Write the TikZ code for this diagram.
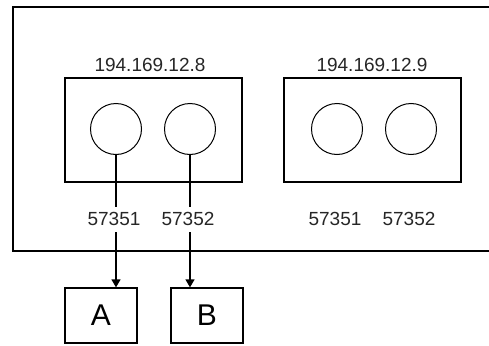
\documentclass[tikz,border=0pt]{standalone}
\usepackage{fontspec}
\setmainfont{Liberation Sans}
\usetikzlibrary{arrows.meta}
\begin{document}
\begin{tikzpicture}[x=1pt,y=-1pt,line width=1.3pt,
  hostbox/.style={draw,minimum width=177pt,minimum height=104pt,inner sep=0pt},
  port/.style={draw,circle,minimum size=51pt,inner sep=0pt,line width=1pt},
  lbl/.style={font=\fontsize{19}{19}\selectfont,inner sep=0pt,text=black!85},
  dest/.style={draw,minimum width=72pt,minimum height=55pt,inner sep=0pt,font=\fontsize{30}{30}\selectfont},
  arr/.style={-{Triangle[length=8pt,width=9pt]}}]
\useasboundingbox (0,0) rectangle (489,345);
\draw (530,7) -- (13,7) -- (13,251) -- (530,251);
\node[hostbox] (h1) at (153.5,130) {};
\node[hostbox] (h2) at (372.5,130) {};
\node[lbl] (ip1) at (150,65) {194.169.12.8};
\node[lbl] (ip2) at (372,65) {194.169.12.9};
\node[port] (p1) at (116,129) {};
\node[port] (p2) at (190,129) {};
\node[port] (p3) at (337,129) {};
\node[port] (p4) at (411,129) {};
\node[lbl] (l1) at (114,219) {57351};
\node[lbl] (l2) at (188,219) {57352};
\node[lbl] (l3) at (335,219) {57351};
\node[lbl] (l4) at (409,219) {57352};
\node[dest] (A) at (101,315.5) {A};
\node[dest] (B) at (207,315.5) {B};
\coordinate (e1) at (116,207);
\coordinate (e2) at (190,207);
\coordinate (s1) at (116,232);
\coordinate (s2) at (190,232);
\draw (p1.south) -- (e1);
\draw (p2.south) -- (e2);
\draw[arr] (s1) -- (A.north -| s1);
\draw[arr] (s2) -- (B.north -| s2);
\end{tikzpicture}
\end{document}
